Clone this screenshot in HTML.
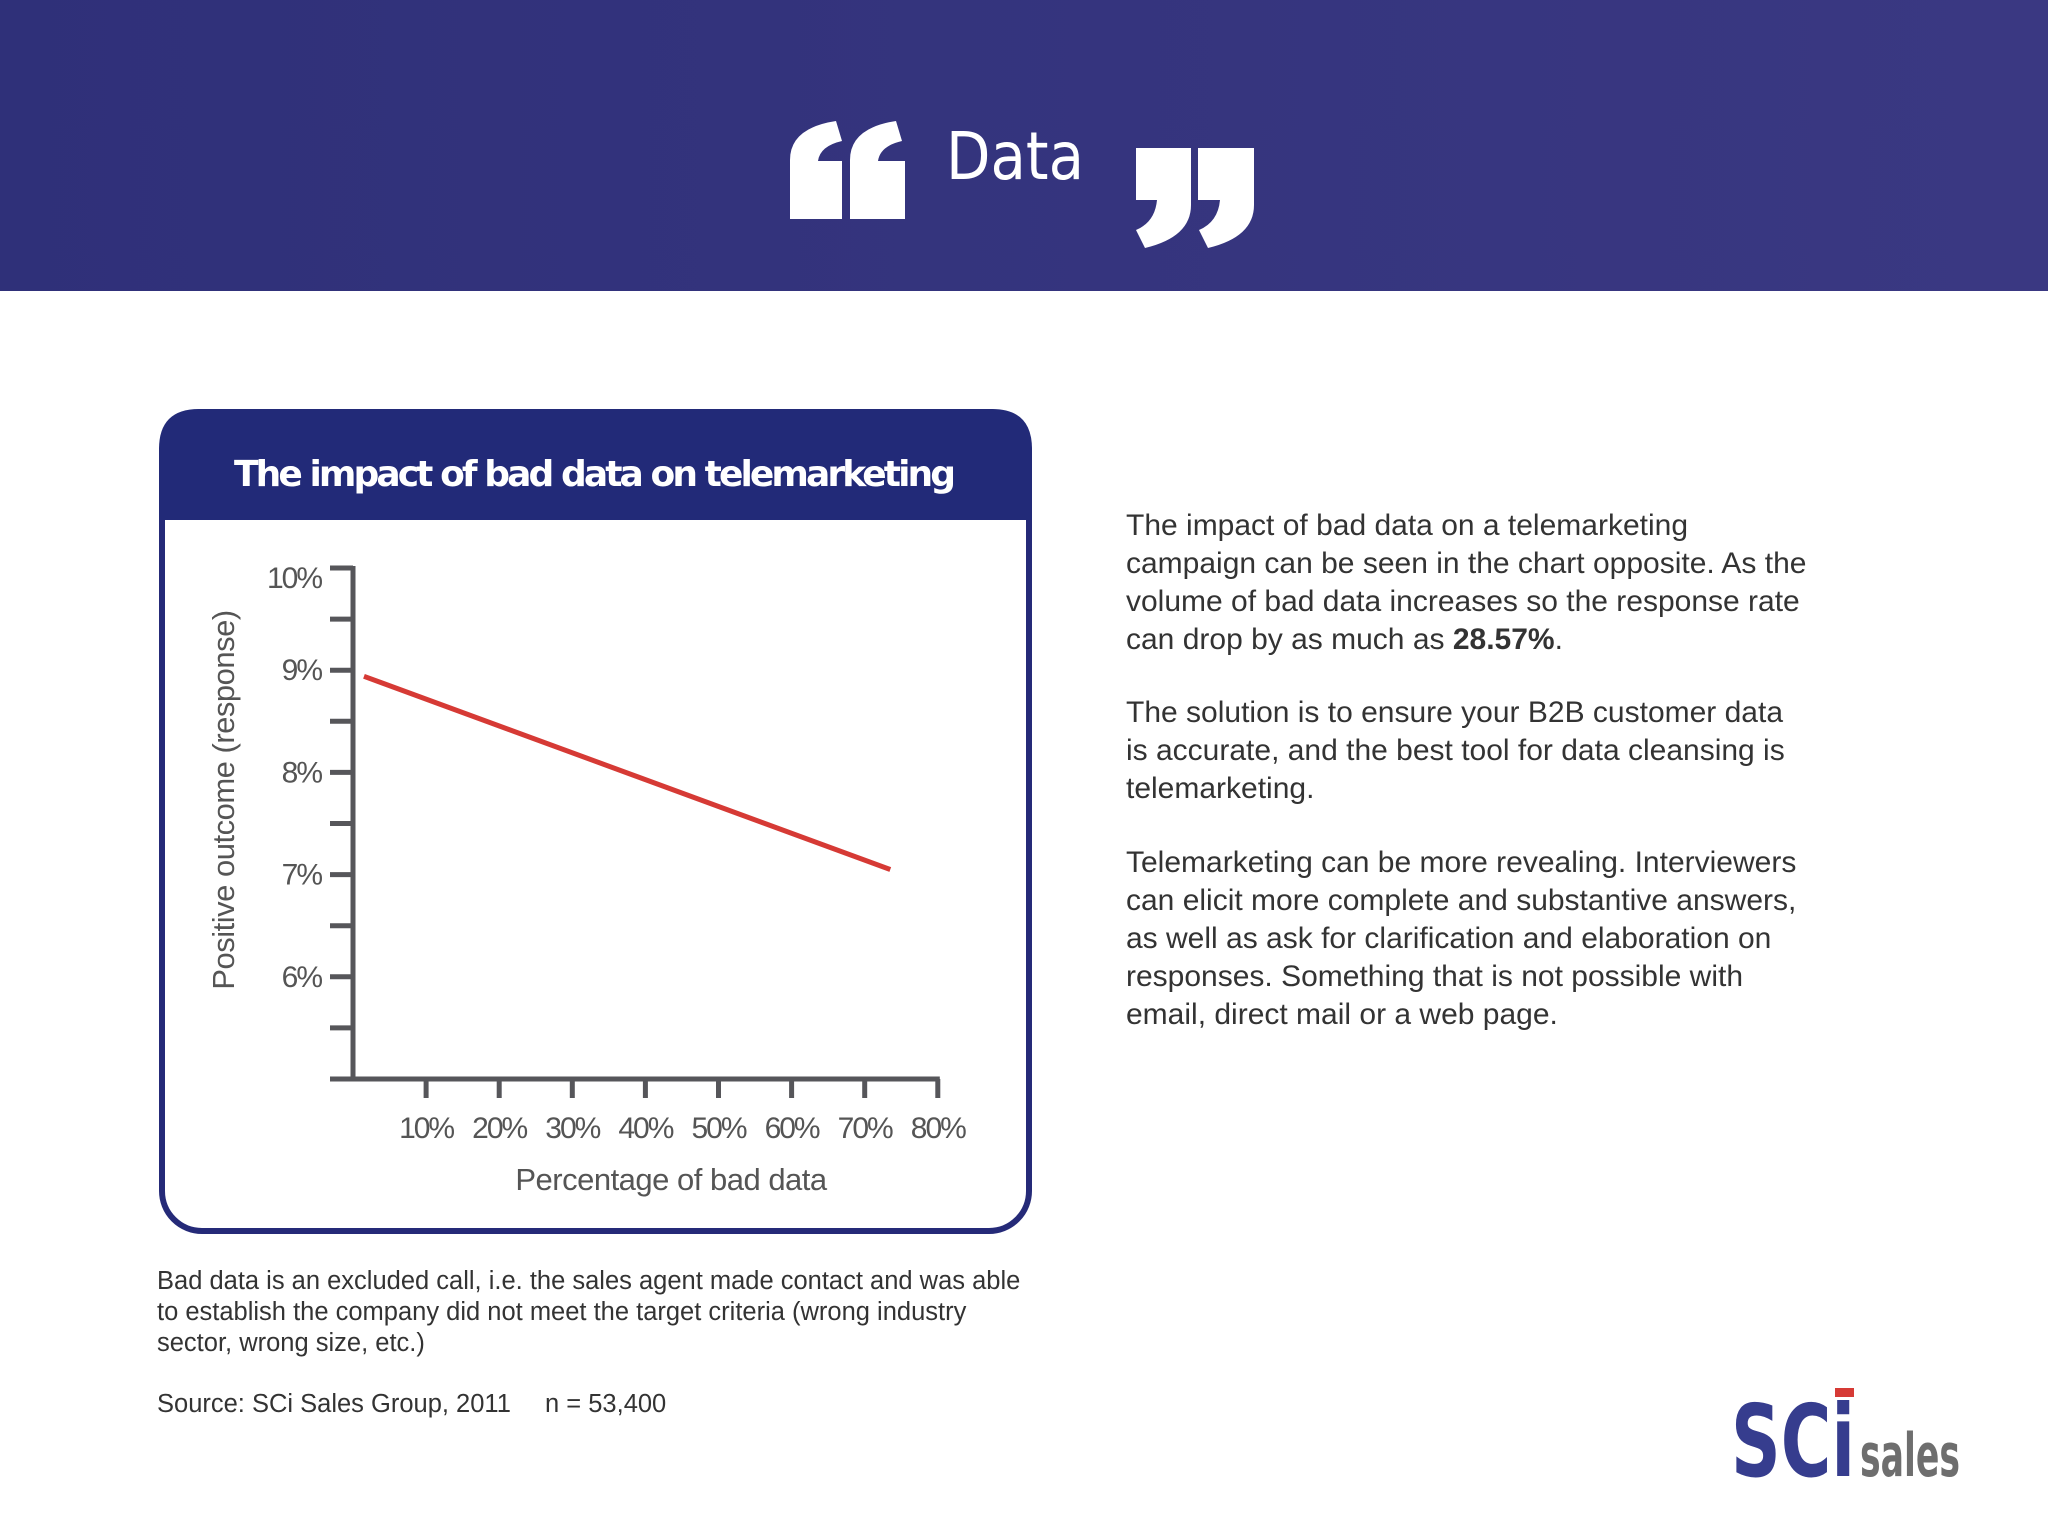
<!DOCTYPE html>
<html><head><meta charset="utf-8"><style>
html,body{margin:0;padding:0;background:#fff;}
svg{display:block;}
text{font-family:"Liberation Sans",sans-serif;}
</style></head><body>
<svg id="page" width="2048" height="1536" viewBox="0 0 2048 1536" xmlns="http://www.w3.org/2000/svg">
<defs><linearGradient id="hg" x1="0" x2="1"><stop offset="0" stop-color="#2f3079"/><stop offset="1" stop-color="#3a3882"/></linearGradient></defs>
<g>
<rect x="0" y="0" width="2048" height="291" fill="url(#hg)"/>
<g fill="#fff">
<path d="M790 219 V160 Q790 128 836 121 L842 141 Q820 146 818 161 H842 V219 Z"/>
<path d="M850 219 V160 Q850 128 896 121 L902 141 Q880 146 878 161 H905 V219 Z"/>
</g>
<text x="946" y="179" font-size="66" fill="#fff" style="font-family:'DejaVu Sans',sans-serif" textLength="138" lengthAdjust="spacingAndGlyphs">Data</text>
<g fill="#fff">
<path d="M1136 148 H1191 V205 Q1191 237 1145 248 L1136 230 Q1155 222 1157 200 H1136 Z"/>
<path d="M1198 148 H1254 V205 Q1254 237 1208 248 L1199 230 Q1218 222 1220 200 H1198 Z"/>
</g>
</g>

<g>
<rect x="162" y="412" width="867" height="819" rx="40" fill="#fff" stroke="#252a78" stroke-width="6"/>
<path d="M159 520 V449 Q159 409 199 409 H992 Q1032 409 1032 449 V520 Z" fill="#222a78"/>
<text x="595" y="486" text-anchor="middle" font-size="36" font-weight="bold" fill="#fff" textLength="722" style="font-family:'DejaVu Sans','Liberation Sans',sans-serif">The impact of bad data on telemarketing</text>
<g id="plot"></g>
</g>

<g font-size="30" fill="#333">
<text x="1126" y="535">The impact of bad data on a telemarketing</text>
<text x="1126" y="573">campaign can be seen in the chart opposite. As the</text>
<text x="1126" y="611">volume of bad data increases so the response rate</text>
<text x="1126" y="649">can drop by as much as <tspan font-weight="bold">28.57%</tspan>.</text>
<text x="1126" y="722">The solution is to ensure your B2B customer data</text>
<text x="1126" y="760">is accurate, and the best tool for data cleansing is</text>
<text x="1126" y="798">telemarketing.</text>
<text x="1126" y="872">Telemarketing can be more revealing. Interviewers</text>
<text x="1126" y="910">can elicit more complete and substantive answers,</text>
<text x="1126" y="948">as well as ask for clarification and elaboration on</text>
<text x="1126" y="986">responses. Something that is not possible with</text>
<text x="1126" y="1024">email, direct mail or a web page.</text>
</g>

<g font-size="25.5" fill="#333">
<text x="157" y="1289">Bad data is an excluded call, i.e. the sales agent made contact and was able</text>
<text x="157" y="1320">to establish the company did not meet the target criteria (wrong industry</text>
<text x="157" y="1351">sector, wrong size, etc.)</text>
<text x="157" y="1412">Source: SCi Sales Group, 2011</text>
<text x="545" y="1412">n = 53,400</text>
</g>

<g>
<rect x="1835" y="1388" width="19" height="9" fill="#d63a35"/>
<text x="1731" y="1476" font-size="100" font-weight="bold" fill="#363d8e" textLength="124" lengthAdjust="spacingAndGlyphs" style="font-family:'DejaVu Sans',sans-serif">SCi</text>
<text x="1860" y="1476" font-size="60" font-weight="bold" fill="#6e6e6e" textLength="100" lengthAdjust="spacingAndGlyphs" style="font-family:'DejaVu Sans',sans-serif">sales</text>
</g>
</svg>
<script>
const xTicks = [10,20,30,40,50,60,70,80];
const xTickLabels = ["10%","20%","30%","40%","50%","60%","70%","80%"];
const yTicks = [6,7,8,9,10];
const yTickLabels = ["6%","7%","8%","9%","10%"];
const seriesX = [1.5, 73.5];
const seriesY = [8.94, 7.05];

const NS = "http://www.w3.org/2000/svg";
const plot = document.getElementById('plot');
const x0 = 353, xPer = 7.31;
const yBase = 1079, yMin = 5, yPer = 102.2;
const sx = v => x0 + v * xPer;
const sy = v => yBase - (v - yMin) * yPer;
function mk(tag, attrs){const e=document.createElementNS(NS,tag);for(const k in attrs)e.setAttribute(k,attrs[k]);plot.appendChild(e);return e;}
const AX = "#56565a";
let yl = mk('line',{x1:x0,y1:sy(10)-2,x2:x0,y2:yBase,stroke:AX,'stroke-width':5});


for (let v = 5.5; v <= 10; v += 0.5) {
  const t = mk('line',{x1:330,y1:sy(v),x2:x0,y2:sy(v),stroke:AX,'stroke-width':5});
  
  
}
let xl = mk('line',{x1:330,y1:yBase,x2:sx(80)+2,y2:yBase,stroke:AX,'stroke-width':5});


yTicks.forEach((v,i)=>{
  const off = v === 10 ? 20 : 10;
  const t = mk('text',{x:321,y:sy(v)+off,'text-anchor':'end','font-size':30,fill:'#555','letter-spacing':-2});
  t.textContent = yTickLabels[i];
  
  
});
xTicks.forEach((v,i)=>{
  const t = mk('line',{x1:sx(v),y1:yBase,x2:sx(v),y2:1098,stroke:AX,'stroke-width':5});
  
  
  const l = mk('text',{x:sx(v),y:1138,'text-anchor':'middle','font-size':30,fill:'#555','letter-spacing':-2});
  l.textContent = xTickLabels[i];
  
  
});
const xt = mk('text',{x:671,y:1190,'text-anchor':'middle','font-size':31,fill:'#555','letter-spacing':-0.5});
xt.textContent = 'Percentage of bad data';


const yt = mk('text',{x:0,y:0,'text-anchor':'middle','font-size':31,fill:'#555','letter-spacing':-0.5,transform:'translate(234,800) rotate(-90)'});
yt.textContent = 'Positive outcome (response)';


const pts = seriesX.map((x,i)=>sx(x)+','+sy(seriesY[i])).join(' ');
const line = mk('polyline',{points:pts,fill:'none',stroke:'#d63a35','stroke-width':5});


</script>
</body></html>
